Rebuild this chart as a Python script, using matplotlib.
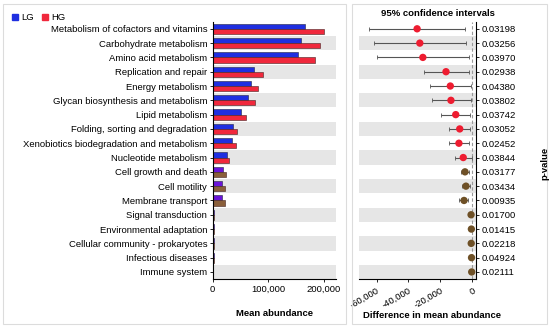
import matplotlib
matplotlib.use("Agg")
import numpy as np
from matplotlib import pyplot as plt
from matplotlib.patches import Patch, Rectangle

plt.rcParams["font.family"] = ["Liberation Sans", "DejaVu Sans"]

pathways = [
    "Metabolism of cofactors and vitamins",
    "Carbohydrate metabolism",
    "Amino acid metabolism",
    "Replication and repair",
    "Energy metabolism",
    "Glycan biosynthesis and metabolism",
    "Lipid metabolism",
    "Folding, sorting and degradation",
    "Xenobiotics biodegradation and metabolism",
    "Nucleotide metabolism",
    "Cell growth and death",
    "Cell motility",
    "Membrane transport",
    "Signal transduction",
    "Environmental adaptation",
    "Cellular community - prokaryotes",
    "Infectious diseases",
    "Immune system",
]
lg_mean = [166000, 159000, 154000, 74000, 69000, 63000, 50000, 36000, 35000,
           25000, 19000, 17000, 17000, 2500, 2000, 2000, 1500, 1000]
hg_mean = [200000, 192000, 184000, 90000, 82000, 76000, 60000, 44000, 42000,
           30000, 24000, 21500, 21500, 3000, 2300, 2500, 1700, 1150]
diff = [-34600, -32900, -31000, -16500, -13800, -13400, -10400, -7900, -8400,
        -5700, -4600, -4000, -5200, -800, -600, -700, -500, -400]
ci_low = [-64800, -61800, -59700, -30200, -26800, -25300, -19900, -14500, -14900,
          -10700, -7300, -6700, -8200, -1200, -900, -1100, -800, -700]
ci_high = [-4600, -4000, -2300, -2300, -600, -800, -1300, -1300, -1900,
           -400, -2100, -1600, -2500, -400, -300, -300, -200, -100]
p_values = ["0.03198", "0.03256", "0.03970", "0.02938", "0.04380", "0.03802",
            "0.03742", "0.03052", "0.02452", "0.03844", "0.03177", "0.03434",
            "0.00935", "0.01700", "0.01415", "0.02218", "0.04924", "0.02111"]
# rows from "Cell growth and death" onwards are drawn in the second colour set
n_first = 10

fs = 6.8
y = np.arange(len(pathways))
lg_cols = ["#1f2fe0"] * n_first + ["#6a14d8"] * (len(y) - n_first)
hg_cols = ["#f0283c"] * n_first + ["#8a5f3a"] * (len(y) - n_first)
pt_cols = ["#ee1c30"] * n_first + ["#6e5026"] * (len(y) - n_first)

fig = plt.figure(figsize=(5.5, 3.28), dpi=100)

# panel frames
for x0, w in [(0.006, 0.623), (0.64, 0.354)]:
    fig.patches.append(Rectangle((x0, 0.012), w, 0.976, transform=fig.transFigure,
                                 fill=False, edgecolor="#dcdcdc", linewidth=0.8))

ax1 = fig.add_axes([0.3867, 0.149, 0.2236, 0.785])
ax2 = fig.add_axes([0.6527, 0.149, 0.2122, 0.785])

for ax in (ax1, ax2):
    for i in y[1::2]:
        ax.axhspan(i - 0.5, i + 0.5, color="#e6e6e6", zorder=0, linewidth=0)
    ax.set_ylim(len(y) - 0.5, -0.5)
    ax.set_yticks(y)
    ax.tick_params(labelsize=fs, length=2.5, width=0.6, pad=1.5)

bh = 0.36
ax1.barh(y - bh / 2, lg_mean, height=bh, color=lg_cols, edgecolor="#222244", linewidth=0.4, zorder=2)
ax1.barh(y + bh / 2, hg_mean, height=bh, color=hg_cols, edgecolor="#442222", linewidth=0.4, zorder=2)
ax1.set_xlim(0, 221000)
ax1.set_xticks([0, 100000, 200000])
ax1.set_xticklabels(["0", "100,000", "200,000"])
ax1.set_yticklabels(pathways)
ax1.spines[["top", "right"]].set_visible(False)

ax2.axvline(0, color="#999999", linestyle=(0, (3, 2)), linewidth=0.8, zorder=1)
diff = np.array(diff)
ax2.errorbar(diff, y, xerr=[diff - np.array(ci_low), np.array(ci_high) - diff],
             fmt="none", ecolor="#555555", elinewidth=0.8, capsize=1.5, capthick=0.6, zorder=2)
ax2.scatter(diff, y, s=28, c=pt_cols, zorder=3, linewidths=0)
ax2.set_xlim(-71000, 2100)
ax2.set_xticks([-60000, -40000, -20000, 0])
ax2.set_xticklabels(["-60,000", "-40,000", "-20,000", "0"], rotation=30, ha="right",
                    rotation_mode="anchor")
ax2.tick_params(axis="x", pad=2.5)
ax2.yaxis.tick_right()
ax2.set_yticklabels(p_values)
ax2.spines[["top", "left"]].set_visible(False)

fig.text(274 / 550, 1 - 313 / 328, "Mean abundance", fontsize=fs,
         fontweight="bold", ha="center", va="center")
fig.text(432 / 550, 1 - 315 / 328, "Difference in mean abundance", fontsize=fs,
         fontweight="bold", ha="center", va="center")
fig.text(438 / 550, 1 - 14 / 328, "95% confidence intervals", fontsize=fs,
         fontweight="bold", ha="center", va="center")
fig.text(545 / 550, 1 - 163 / 328, "p-value", fontsize=fs, fontweight="bold",
         rotation=90, ha="center", va="center")

handles = [Patch(color="#1f2fe0", label="LG"), Patch(color="#f0283c", label="HG")]
fig.legend(handles=handles, loc="upper left", bbox_to_anchor=(0.006, 0.985), ncol=2,
           frameon=False, fontsize=fs, handlelength=0.7, handleheight=0.7,
           handletextpad=0.3, columnspacing=0.8)

fig.savefig("out.png", dpi=100)
